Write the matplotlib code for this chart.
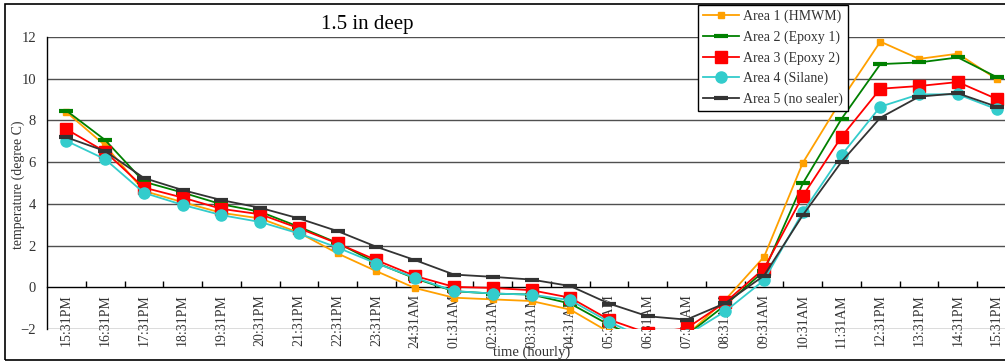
import numpy as np
import matplotlib
matplotlib.use('Agg')
import matplotlib.pyplot as plt
from matplotlib.patches import Rectangle

# 時間（每小時）
times = ['15:31PM', '16:31PM', '17:31PM', '18:31PM', '19:31PM', '20:31PM',
         '21:31PM', '22:31PM', '23:31PM', '24:31AM', '01:31AM', '02:31AM',
         '03:31AM', '04:31AM', '05:31AM', '06:31AM', '07:31AM', '08:31AM',
         '09:31AM', '10:31AM', '11:31AM', '12:31PM', '13:31PM', '14:31PM',
         '15:31PM']

area1 = [8.40, 6.80, 4.62, 4.08, 3.57, 3.30, 2.62, 1.62, 0.77, -0.04, -0.50, -0.58,
         -0.66, -1.07, -2.15, -2.80, -2.30, -0.60, 1.46, 5.97, 9.00, 11.78, 10.95,
         11.20, 9.98]
area2 = [8.47, 7.06, 5.06, 4.54, 3.98, 3.62, 2.90, 2.12, 1.17, 0.42, -0.19, -0.30,
         -0.35, -0.78, -1.80, -2.60, -2.30, -0.85, 0.78, 4.98, 8.08, 10.70, 10.78,
         11.02, 10.08]
area3 = [7.58, 6.50, 4.78, 4.30, 3.76, 3.50, 2.83, 2.10, 1.30, 0.54, 0.02, -0.03,
         -0.14, -0.50, -1.55, -2.20, -1.97, -0.72, 0.90, 4.38, 7.22, 9.52, 9.65,
         9.84, 9.03]
area4 = [7.02, 6.14, 4.53, 3.95, 3.46, 3.13, 2.58, 1.90, 1.14, 0.46, -0.18, -0.30,
         -0.35, -0.62, -1.66, -2.50, -2.30, -1.15, 0.34, 3.60, 6.34, 8.66, 9.25,
         9.25, 8.54]
area5 = [7.19, 6.53, 5.24, 4.66, 4.18, 3.81, 3.30, 2.69, 1.94, 1.30, 0.61, 0.50,
         0.37, 0.06, -0.78, -1.39, -1.55, -0.76, 0.56, 3.46, 6.02, 8.13, 9.14,
         9.30, 8.66]

labels = ['Area 1 (HMWM)', 'Area 2 (Epoxy 1)', 'Area 3 (Epoxy 2)',
          'Area 4 (Silane)', 'Area 5 (no sealer)']


def main():
    plt.rcParams['font.family'] = ['Liberation Serif', 'DejaVu Serif']
    fig = plt.figure(figsize=(10.05, 3.62), dpi=100)
    ax = fig.add_axes([47 / 1005, 1 - 329 / 362, 969 / 1005, 292 / 362])

    x = np.arange(len(times))
    styles = [
        dict(color='#FFA000', marker='s', ms=5),
        dict(color='#008000', marker='_', ms=10, mew=3),
        dict(color='#FF0000', marker='s', ms=8),
        dict(color='#33CCCC', marker='o', ms=8),
        dict(color='#333333', marker='_', ms=10, mew=3),
    ]
    for y, lab, st in zip([area1, area2, area3, area4, area5], labels, styles):
        ax.plot(x, y, lw=1.3, label=lab, zorder=3, **st)

    ax.set_ylim(-2, 12)
    ax.set_xlim(-0.5, len(times) - 0.5)
    ax.set_yticks(np.arange(-2, 13, 2))
    ax.tick_params(axis='y', length=0, pad=8, labelsize=10.5, colors='#333333')
    for v in np.arange(-2, 13, 2):
        if v != 0:
            ax.axhline(v, color='#505050', lw=1.0, zorder=1)

    # x軸放在 0 的位置
    ax.spines['bottom'].set_position(('data', 0))
    ax.spines['bottom'].set_linewidth(1.0)
    ax.spines['left'].set_linewidth(1.0)
    ax.spines['top'].set_visible(False)
    ax.spines['right'].set_visible(False)
    ax.set_xticks(x)
    ax.set_xticklabels(times, rotation=90, fontsize=10, color='#333333')
    ax.set_xticks(x[:-1] + 0.5, minor=True)
    ax.tick_params(axis='x', which='major', length=0, pad=5)
    ax.tick_params(axis='x', which='minor', direction='in', length=4, width=1)

    fig.text(367 / 1005, 1 - 24 / 362, '1.5 in deep', fontsize=15,
             ha='center', va='center')
    fig.text(18 / 1005, 1 - 185 / 362, 'temperature (degree C)', fontsize=10,
             rotation=90, ha='center', va='center', color='#333333')
    fig.text(532 / 1005, 1 - 352 / 362, 'time (hourly)', fontsize=10.5,
             ha='center', va='center', color='#333333')

    leg = ax.legend(loc='upper left', bbox_to_anchor=(698 / 1005, 1 - 5 / 362),
                    bbox_transform=fig.transFigure, borderaxespad=0,
                    fancybox=False, framealpha=1, edgecolor='black',
                    fontsize=10, handlelength=2.6, labelspacing=0.52,
                    borderpad=0.35, handletextpad=0.3)
    leg.get_frame().set_linewidth(1.0)
    leg.set_zorder(10)
    for t in leg.get_texts():
        t.set_color('#333333')

    # 外框
    fig.patches.append(Rectangle((5 / 1005, 2 / 362), 1.1, 356 / 362,
                                 transform=fig.transFigure, fill=False,
                                 edgecolor='black', lw=1.2, clip_on=False))
    fig.savefig('out.png', dpi=100)


if __name__ == '__main__':
    plt.close('all')
    main()
